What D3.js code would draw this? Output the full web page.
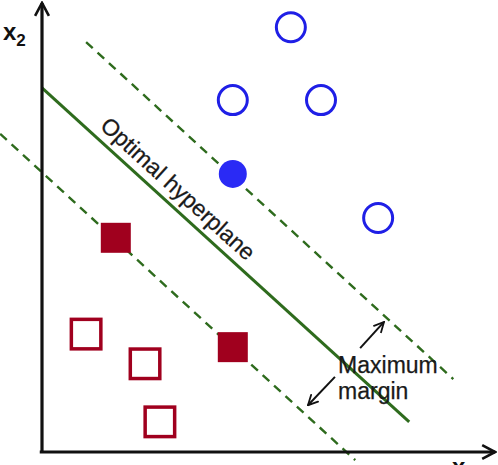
<!DOCTYPE html>
<html>
<head>
<meta charset="utf-8">
<script src="https://cdn.jsdelivr.net/npm/d3@7"></script>
<style>
  html, body { margin: 0; padding: 0; background: #fff; }
  svg { display: block; }
  text { font-family: "Liberation Sans", Arial, Helvetica, sans-serif; }
</style>
</head>
<body>
<script>
// ---- data (plot units) ----
const openCircles = [[5.53, 9.44], [4.24, 7.82], [6.20, 7.82], [7.47, 5.20]];
const supportCircles = [[4.24, 6.18]];
const openSquares = [[0.98, 2.62], [2.29, 1.96], [2.62, 0.67]];
const supportSquares = [[1.64, 4.76], [4.24, 2.33]];
const hyperplane = [[0.00, 8.09], [8.16, 0.67]];
const marginUpper = [[0.98, 9.11], [9.14, 1.62]];
const marginLower = [[-0.93, 7.07], [6.96, -0.18]];
const marginArrows = [[[7.07, 2.31], [7.60, 2.89]], [[6.51, 1.67], [5.91, 1.04]]];
const axisEnd = [10.07, 9.98];
const hyperplaneLabel = "Optimal hyperplane";
const hyperplaneLabelAt = 1.13;   // x position along the hyperplane
const marginLabel = ["Maximum", "margin"];
const marginLabelAt = [6.58, 1.76];
const axisLabels = ["x", "2", "x", "1"];

// ---- layout ----
const W = 498, H = 465;
const x = d3.scaleLinear().domain([0, 10]).range([42, 492]);
const y = d3.scaleLinear().domain([0, 10]).range([452, 2]);

const BLUE = "#1f1fe6", BLUE_FILL = "#2a2af5", RED = "#a0001e", GREEN = "#2e6b1d", INK = "#111";

const svg = d3.select("body").append("svg").attr("width", W).attr("height", H);
const defs = svg.append("defs");
defs.append("marker").attr("id", "arrow").attr("viewBox", "0 0 10 10")
  .attr("refX", 9).attr("refY", 5).attr("markerWidth", 6).attr("markerHeight", 6)
  .attr("orient", "auto").attr("markerUnits", "strokeWidth")
  .append("path").attr("d", "M1,1 L9,5 L1,9").attr("fill", "none")
  .attr("stroke", INK).attr("stroke-width", 1.5).attr("stroke-linecap", "round");
defs.append("marker").attr("id", "axisArrow").attr("viewBox", "0 0 10 10")
  .attr("refX", 9).attr("refY", 5).attr("markerWidth", 5.4).attr("markerHeight", 5.4)
  .attr("orient", "auto").attr("markerUnits", "strokeWidth")
  .append("path").attr("d", "M1.5,1 L9,5 L1.5,9").attr("fill", "none")
  .attr("stroke", INK).attr("stroke-width", 1.5).attr("stroke-linejoin", "miter");

const line = d3.line().x(d => x(d[0])).y(d => y(d[1]));

// lines
svg.append("path").datum(marginUpper).attr("d", line).attr("fill", "none")
  .attr("stroke", GREEN).attr("stroke-width", 2.4).attr("stroke-dasharray", "9,6.5");
svg.append("path").datum(marginLower).attr("d", line).attr("fill", "none")
  .attr("stroke", GREEN).attr("stroke-width", 2.4).attr("stroke-dasharray", "9,6.5");
svg.append("path").datum(hyperplane).attr("d", line).attr("fill", "none")
  .attr("stroke", GREEN).attr("stroke-width", 3);

// axes
svg.append("path").datum([[0, 0], [0, axisEnd[1]]]).attr("d", line).attr("fill", "none")
  .attr("stroke", INK).attr("stroke-width", 3.2).attr("marker-end", "url(#axisArrow)");
svg.append("path").datum([[-0.05, 0], [axisEnd[0], 0]]).attr("d", line).attr("fill", "none")
  .attr("stroke", INK).attr("stroke-width", 3.2).attr("marker-end", "url(#axisArrow)");

// squares
const S = 29.5;
svg.selectAll("rect.open").data(openSquares).join("rect").attr("class", "open")
  .attr("x", d => x(d[0]) - S / 2).attr("y", d => y(d[1]) - S / 2)
  .attr("width", S).attr("height", S).attr("fill", "none")
  .attr("stroke", RED).attr("stroke-width", 3.5);
svg.selectAll("rect.sv").data(supportSquares).join("rect").attr("class", "sv")
  .attr("x", d => x(d[0]) - 15).attr("y", d => y(d[1]) - 15)
  .attr("width", 30).attr("height", 30).attr("fill", RED);

// circles
svg.selectAll("circle.open").data(openCircles).join("circle").attr("class", "open")
  .attr("cx", d => x(d[0])).attr("cy", d => y(d[1])).attr("r", 14.5)
  .attr("fill", "none").attr("stroke", BLUE).attr("stroke-width", 3);
svg.selectAll("circle.sv").data(supportCircles).join("circle").attr("class", "sv")
  .attr("cx", d => x(d[0])).attr("cy", d => y(d[1])).attr("r", 14)
  .attr("fill", BLUE_FILL);

// margin arrows
svg.selectAll("path.marr").data(marginArrows).join("path").attr("class", "marr")
  .attr("d", line).attr("fill", "none").attr("stroke", INK).attr("stroke-width", 2)
  .attr("marker-end", "url(#arrow)");

// hyperplane label
const p1 = [x(hyperplane[0][0]), y(hyperplane[0][1])];
const p2 = [x(hyperplane[1][0]), y(hyperplane[1][1])];
const ang = Math.atan2(p2[1] - p1[1], p2[0] - p1[0]);
const t = (x(hyperplaneLabelAt) - p1[0]) / (p2[0] - p1[0]);
const foot = [p1[0] + t * (p2[0] - p1[0]), p1[1] + t * (p2[1] - p1[1])];
const off = 9;
const lx = foot[0] + off * Math.sin(ang), ly = foot[1] - off * Math.cos(ang);
svg.append("text").attr("transform", `translate(${lx},${ly}) rotate(${ang * 180 / Math.PI})`)
  .attr("font-size", 23).attr("fill", "#1a1a1a").attr("stroke", "#1a1a1a").attr("stroke-width", 0.25)
  .text(hyperplaneLabel);

// margin label
const mt = svg.append("text").attr("x", x(marginLabelAt[0])).attr("y", y(marginLabelAt[1]))
  .attr("font-size", 23).attr("fill", "#1a1a1a").attr("stroke", "#1a1a1a").attr("stroke-width", 0.25);
marginLabel.forEach((s, i) => mt.append("tspan").attr("x", x(marginLabelAt[0]))
  .attr("dy", i === 0 ? 0 : 26).text(s));

// axis labels
const yl = svg.append("text").attr("x", 3).attr("y", 40).attr("font-weight", "bold").attr("fill", INK);
yl.append("tspan").attr("font-size", 24).text(axisLabels[0]);
yl.append("tspan").attr("font-size", 17).attr("dy", 6).text(axisLabels[1]);
const xl = svg.append("text").attr("x", 452).attr("y", 475).attr("font-weight", "bold").attr("fill", INK);
xl.append("tspan").attr("font-size", 24).text(axisLabels[2]);
xl.append("tspan").attr("font-size", 17).attr("dy", 6).text(axisLabels[3]);
</script>
</body>
</html>
